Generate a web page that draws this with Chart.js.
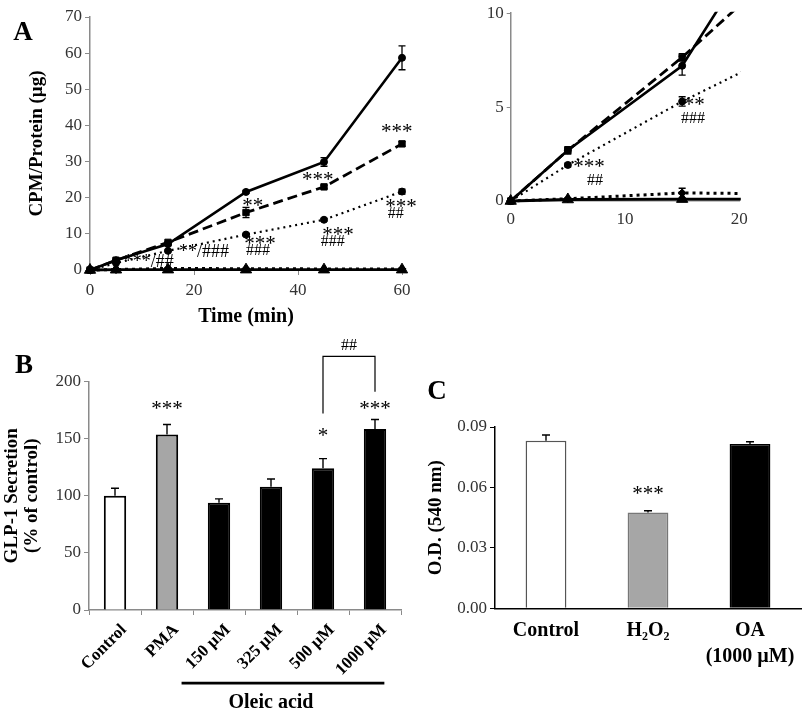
<!DOCTYPE html>
<html><head><meta charset="utf-8">
<script src="https://cdn.jsdelivr.net/npm/chart.js@4"></script>
<style>
html,body{margin:0;padding:0;background:#fff;}
#wrap{position:relative;width:803px;height:715px;overflow:hidden;background:#fff;}
canvas{position:absolute;left:0;top:0;}
.pl{position:absolute;font:bold 27px "Liberation Serif",serif;line-height:1;transform:translate(-50%,-50%);color:#000;}
</style></head><body>
<div id="wrap">
<canvas id="cA" width="803" height="715"></canvas>
<canvas id="cI" width="803" height="715"></canvas>
<canvas id="cB" width="803" height="715"></canvas>
<canvas id="cC" width="803" height="715"></canvas>
<div class="pl" style="left:23px;top:31px">A</div>
<div class="pl" style="left:24px;top:364px">B</div>
<div class="pl" style="left:437px;top:390px">C</div>
</div>
<script>
// ---------- data ----------
const timeMin = [0, 5, 15, 30, 45, 60];
const uptakeSolid = [0, 2.7, 7.2, 21.6, 29.9, 58.7];
const uptakeSolidErr = [0, 0.2, 0.5, 0.4, 1.2, 3.3];
const uptakeDashed = [0, 2.7, 7.65, 15.9, 23.0, 34.9];
const uptakeDashedErr = [0, 0.15, 0.2, 1.4, 0.4, 0.6];
const uptakeDotted = [0, 1.92, 5.3, 9.8, 13.9, 21.7];
const uptakeDottedErr = [0, 0.1, 0.25, 0.3, 0.4, 0.7];
const uptakeLowDotted = [0, 0.12, 0.43, 0.35, 0.3, 0.3];
const uptakeLowDottedErr = [0, 0.05, 0.25, 0.1, 0.1, 0.1];
const uptakeTriangle = [0, 0.08, 0.1, 0.1, 0.1, 0.1];

const aXTicks = [0, 20, 40, 60];
const aYTicks = [0, 10, 20, 30, 40, 50, 60, 70];
const insetXTicks = [0, 10, 20];
const insetYTicks = [0, 5, 10];

const bCategories = ['Control', 'PMA', '150 µM', '325 µM', '500 µM', '1000 µM'];
const bValues = [100, 153.6, 93.8, 107.9, 124.1, 158.5];
const bErrors = [6.6, 8.7, 3.5, 6.7, 8.4, 8.2];
const bYTicks = [0, 50, 100, 150, 200];

const cCategories = ['Control', 'H₂O₂', ['OA', '(1000 µM)']];
const cValues = [0.0832, 0.0475, 0.0815];
const cErrors = [0.0028, 0.0009, 0.0012];
const cYTicks = [0, 0.03, 0.06, 0.09];

// ---------- plugins ----------
const FAM = '"Liberation Serif", "Times New Roman", serif';
Chart.defaults.font.family = FAM;

const errPlugin = {
  id: 'errbars',
  afterDatasetsDraw(chart, args, opts) {
    if (!opts || !opts.sets) return;
    const ctx = chart.ctx, ys = chart.scales.y, ca = chart.chartArea;
    opts.sets.forEach(set => {
      const meta = chart.getDatasetMeta(set.ds);
      const raw = chart.data.datasets[set.ds].data;
      ctx.save();
      ctx.beginPath();
      ctx.rect(ca.left - 10, ca.top - 2, ca.right - ca.left + 20, ca.bottom - ca.top + 4);
      ctx.clip();
      ctx.strokeStyle = set.color || '#000';
      ctx.lineWidth = set.width || 1.3;
      meta.data.forEach((el, i) => {
        const e = set.err[i];
        if (!e) return;
        if (el.x < ca.left - 1 || el.x > ca.right + 1) return;
        const v = (typeof raw[i] === 'object') ? raw[i].y : raw[i];
        const t = ys.getPixelForValue(v + e);
        const b = set.up ? ys.getPixelForValue(v) : ys.getPixelForValue(v - e);
        const h = set.cap || 3.5;
        ctx.beginPath();
        ctx.moveTo(el.x, t); ctx.lineTo(el.x, b);
        ctx.moveTo(el.x - h, t); ctx.lineTo(el.x + h, t);
        if (!set.up) { ctx.moveTo(el.x - h, b); ctx.lineTo(el.x + h, b); }
        ctx.stroke();
      });
      ctx.restore();
    });
  }
};

const annotPlugin = {
  id: 'annot',
  afterDraw(chart, args, opts) {
    if (!opts) return;
    const ctx = chart.ctx, xs = chart.scales.x, ys = chart.scales.y;
    (opts.lines || []).forEach(l => {
      ctx.save();
      ctx.strokeStyle = l.color || '#000';
      ctx.lineWidth = l.width || 1.3;
      ctx.beginPath();
      l.pts.forEach((p, k) => {
        const px = xs.getPixelForValue(p[0]), py = ys.getPixelForValue(p[1]);
        if (k === 0) ctx.moveTo(px, py); else ctx.lineTo(px, py);
      });
      ctx.stroke();
      ctx.restore();
    });
    (opts.items || []).forEach(it => {
      ctx.save();
      ctx.font = it.font;
      ctx.fillStyle = '#000';
      ctx.textAlign = 'center';
      ctx.textBaseline = 'middle';
      ctx.fillText(it.text, xs.getPixelForValue(it.x), ys.getPixelForValue(it.y) + (it.dy || 0));
      ctx.restore();
    });
  }
};
Chart.register(errPlugin, annotPlugin);

const STAR = '21px ' + FAM;
const HASH = '16px ' + FAM;
const MIX = '18px ' + FAM;

function pts(arr) { return timeMin.map((t, i) => ({ x: t, y: arr[i] })); }
function lineSets(clip) {
  return [
    { data: pts(uptakeSolid), borderColor: '#000', borderWidth: 2.6, pointStyle: 'circle', pointRadius: 3.5 },
    { data: pts(uptakeDashed), borderColor: '#000', borderWidth: 2.8, borderDash: [10, 5], pointStyle: 'rect', pointRadius: 4.5 },
    { data: pts(uptakeDotted), borderColor: '#000', borderWidth: 2.2, borderDash: [2, 4], pointStyle: 'circle', pointRadius: 3.5 },
    { data: pts(uptakeLowDotted), borderColor: '#000', borderWidth: 3, borderDash: [3, 4], pointStyle: 'rectRot', pointRadius: 4 },
    { data: pts(uptakeTriangle), borderColor: '#000', borderWidth: 2.8, pointStyle: 'triangle', pointRadius: 6.5 }
  ].map(d => Object.assign(d, { tension: 0, fill: false, clip: clip, pointBackgroundColor: '#000', pointBorderColor: '#000', pointBorderWidth: 1 }));
}
function lineErrSets() {
  return [
    { ds: 0, err: uptakeSolidErr }, { ds: 1, err: uptakeDashedErr }, { ds: 2, err: uptakeDottedErr },
    { ds: 3, err: uptakeLowDottedErr }
  ];
}
const fixW = w => s => { s.width = w; };
const fixH = h => s => { s.height = h; };
const setTicks = arr => s => { s.ticks = arr.map(v => ({ value: v })); };
const tickFont = { family: FAM, size: 17 };
const GRAY = '#8a8a8a';

// ---------- Panel A main ----------
new Chart(document.getElementById('cA'), {
  type: 'line',
  data: { datasets: lineSets(false) },
  options: {
    responsive: false, animation: false, events: [],
    layout: { padding: { left: 26, top: 17, right: 803 - 402, bottom: 715 - 270 - 60 } },
    plugins: {
      legend: { display: false }, tooltip: { enabled: false },
      errbars: { sets: lineErrSets() },
      annot: { items: [
        { x: 43.8, y: 25.7, text: '***', font: STAR, dy: 3 },
        { x: 59.0, y: 39.0, text: '***', font: STAR, dy: 3 },
        { x: 59.8, y: 18.0, text: '***', font: STAR, dy: 3 },
        { x: 58.8, y: 15.5, text: '##', font: HASH },
        { x: 47.7, y: 10.5, text: '***', font: STAR, dy: 3 },
        { x: 46.7, y: 7.7, text: '###', font: HASH },
        { x: 31.3, y: 18.5, text: '**', font: STAR, dy: 3 },
        { x: 32.7, y: 8.0, text: '***', font: STAR, dy: 3 },
        { x: 32.3, y: 5.3, text: '###', font: HASH },
        { x: 21.9, y: 5.0, text: '**/###', font: MIX },
        { x: 11.3, y: 2.2, text: '***/##', font: MIX }
      ] }
    },
    scales: {
      x: { type: 'linear', min: 0, max: 60, afterFit: fixH(60), afterBuildTicks: setTicks(aXTicks),
        ticks: { font: tickFont, color: '#333', padding: 5 },
        grid: { drawOnChartArea: false, drawTicks: true, tickLength: 5, color: GRAY },
        border: { color: GRAY, width: 1.5 },
        title: { display: true, text: 'Time (min)', color: '#000', font: { family: FAM, size: 20, weight: 'bold' }, padding: { top: 0, bottom: 1 } } },
      y: { type: 'linear', min: 0, max: 70, afterFit: fixW(64), afterBuildTicks: setTicks(aYTicks),
        ticks: { font: tickFont, color: '#333', padding: 3 },
        grid: { drawOnChartArea: false, drawTicks: true, tickLength: 5, color: GRAY },
        border: { color: GRAY, width: 1.5 },
        title: { display: true, text: 'CPM/Protein (µg)', color: '#000', font: { family: FAM, size: 19, weight: 'bold' }, padding: { top: 0, bottom: 0 } } }
    }
  }
});

// ---------- Panel A inset ----------
new Chart(document.getElementById('cI'), {
  type: 'line',
  data: { datasets: lineSets({ left: 10, top: 1.5, right: 1.5, bottom: 10 }) },
  options: {
    responsive: false, animation: false, events: [],
    layout: { padding: { left: 480.7, top: 9.3, right: 803 - 739.3, bottom: 715 - 201 - 30 } },
    plugins: {
      legend: { display: false }, tooltip: { enabled: false },
      errbars: { sets: lineErrSets() },
      annot: { items: [
        { x: 6.85, y: 1.93, text: '***', font: STAR, dy: 3 },
        { x: 7.37, y: 1.10, text: '##', font: HASH },
        { x: 16.05, y: 5.27, text: '**', font: STAR, dy: 3 },
        { x: 15.95, y: 4.38, text: '###', font: HASH }
      ] }
    },
    scales: {
      x: { type: 'linear', min: 0, max: 20, afterFit: fixH(30), afterBuildTicks: setTicks(insetXTicks),
        ticks: { font: tickFont, color: '#333', padding: 8 },
        grid: { drawOnChartArea: false, drawTicks: false, color: GRAY },
        border: { color: GRAY, width: 1.5 } },
      y: { type: 'linear', min: 0, max: 10, afterFit: fixW(30), afterBuildTicks: setTicks(insetYTicks),
        ticks: { font: tickFont, color: '#333', padding: 3 },
        grid: { drawOnChartArea: false, drawTicks: true, tickLength: 4, color: GRAY },
        border: { color: GRAY, width: 1.5 } }
    }
  }
});

// ---------- Panel B ----------
new Chart(document.getElementById('cB'), {
  type: 'bar',
  data: { labels: bCategories, datasets: [{
    data: bValues,
    backgroundColor: ['#ffffff', '#a6a6a6', '#000', '#000', '#000', '#000'],
    borderColor: '#000', borderWidth: 2, barPercentage: 0.43, categoryPercentage: 1
  }] },
  options: {
    responsive: false, animation: false, events: [],
    layout: { padding: { left: 1.2, top: 381.5, right: 803 - 401, bottom: 715 - 610 - 70 } },
    plugins: {
      legend: { display: false }, tooltip: { enabled: false },
      errbars: { sets: [{ ds: 0, err: bErrors, up: true, cap: 4, width: 1.4 }] },
      annot: {
        lines: [
          { pts: [[4, 172], [4, 222], [5, 222], [5, 191]], width: 1.2 },
          { pts: [[1.28, -64], [5.18, -64]], width: 2.6 }
        ],
        items: [
          { x: 1, y: 178, text: '***', font: STAR, dy: 3 },
          { x: 4, y: 154.5, text: '*', font: STAR, dy: 3 },
          { x: 5, y: 178, text: '***', font: STAR, dy: 3 },
          { x: 4.5, y: 231.5, text: '##', font: HASH },
          { x: 3.0, y: -81.5, text: 'Oleic acid', font: 'bold 20px ' + FAM }
        ]
      }
    },
    scales: {
      x: { afterFit: fixH(70),
        ticks: { font: { family: FAM, size: 17, weight: 'bold' }, color: '#000', minRotation: 45, maxRotation: 45, padding: 5, labelOffset: 9 },
        grid: { drawOnChartArea: false, drawTicks: true, tickLength: 5, color: GRAY, offset: true },
        border: { color: GRAY, width: 1.5 } },
      y: { min: 0, max: 200, afterFit: fixW(87.8), afterBuildTicks: setTicks(bYTicks),
        ticks: { font: tickFont, color: '#333', padding: 3 },
        grid: { drawOnChartArea: false, drawTicks: true, tickLength: 5, color: GRAY },
        border: { color: GRAY, width: 1.5 },
        title: { display: true, text: ['GLP-1 Secretion', '(% of control)'], color: '#000', font: { family: FAM, size: 19, weight: 'bold', lineHeight: 1.1 }, padding: { top: 0, bottom: 0 } } }
    }
  }
});

// ---------- Panel C ----------
new Chart(document.getElementById('cC'), {
  type: 'bar',
  data: { labels: cCategories, datasets: [{
    data: cValues,
    backgroundColor: ['#ffffff', '#a6a6a6', '#000'],
    borderColor: ['#555', '#777', '#000'], borderWidth: 1.5, barPercentage: 0.4, categoryPercentage: 1
  }] },
  options: {
    responsive: false, animation: false, events: [],
    layout: { padding: { left: 424.2, top: 427, right: 2, bottom: 715 - 608.3 - 70 } },
    plugins: {
      legend: { display: false }, tooltip: { enabled: false },
      errbars: { sets: [{ ds: 0, err: cErrors, up: true, cap: 4, width: 1.4 }] },
      annot: { items: [ { x: 1, y: 0.0579, text: '***', font: STAR, dy: 3 } ] }
    },
    scales: {
      x: { afterFit: fixH(70),
        ticks: { font: { family: FAM, size: 20, weight: 'bold', lineHeight: 1.3 }, color: '#000', maxRotation: 0, padding: 2 },
        grid: { display: false },
        border: { color: '#000', width: 1.5 } },
      y: { min: 0, max: 0.09, afterFit: fixW(70.8), afterBuildTicks: setTicks(cYTicks),
        ticks: { font: tickFont, color: '#333', padding: 3, callback: v => Number(v).toFixed(2) },
        grid: { drawOnChartArea: false, drawTicks: true, tickLength: 5, color: '#000' },
        border: { color: '#000', width: 1.5 },
        title: { display: true, text: 'O.D. (540 nm)', color: '#000', font: { family: FAM, size: 19, weight: 'bold' }, padding: { top: 0, bottom: 0 } } }
    }
  }
});
</script>
</body></html>
